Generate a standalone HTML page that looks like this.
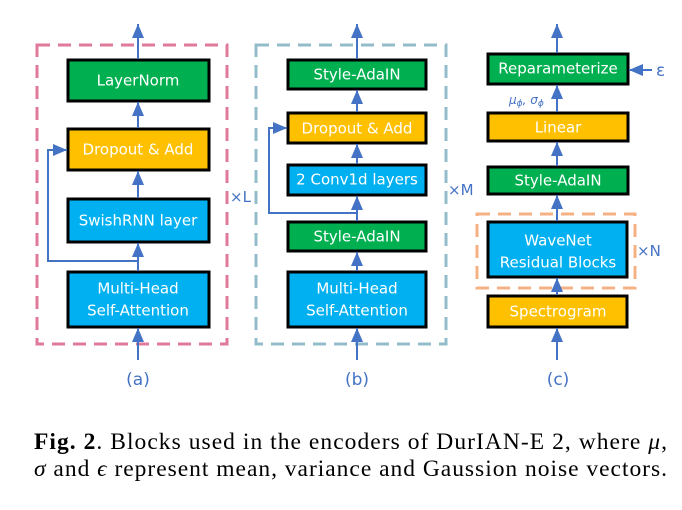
<!DOCTYPE html>
<html><head><meta charset="utf-8"><style>
body{margin:0;background:#fff;width:682px;height:510px;overflow:hidden}
svg{display:block}
.t{font-family:"DejaVu Sans","Liberation Sans",sans-serif;font-size:15px;fill:#fff;text-anchor:middle;dominant-baseline:middle}
.l{font-family:"DejaVu Sans","Liberation Sans",sans-serif;fill:#4472C4;}
.cap{font-family:"Liberation Serif",serif;font-size:23.5px;fill:#000}
</style></head><body>
<svg width="682" height="510" viewBox="0 0 682 510">
<defs><marker id="a" markerWidth="12" markerHeight="14" refX="14" refY="6" orient="auto" markerUnits="userSpaceOnUse"><path d="M0,0 L14,6 L0,12z" fill="#4472C4"/></marker></defs>
<g fill="none" stroke-width="3" stroke-dasharray="13,8">
<rect x="37" y="45" width="190" height="299" stroke="#E07A9A"/>
<rect x="256" y="45" width="190" height="299" stroke="#93BCCB"/>
<rect x="477" y="214" width="158" height="74" stroke="#F4B183"/>
</g>
<g stroke="#000" stroke-width="3">
<rect x="68" y="60" width="141" height="41" fill="#00B050"/>
<rect x="68" y="129" width="141" height="41" fill="#FFC000"/>
<rect x="68" y="199" width="141" height="43" fill="#00B0F0"/>
<rect x="68" y="272" width="141" height="55" fill="#00B0F0"/>
<rect x="288" y="60" width="138" height="29" fill="#00B050"/>
<rect x="288" y="113" width="138" height="30" fill="#FFC000"/>
<rect x="288" y="165" width="138" height="30" fill="#00B0F0"/>
<rect x="288" y="222" width="138" height="29" fill="#00B050"/>
<rect x="288" y="272" width="138" height="55" fill="#00B0F0"/>
<rect x="488" y="54" width="140" height="30" fill="#00B050"/>
<rect x="488" y="113" width="140" height="28" fill="#FFC000"/>
<rect x="488" y="167" width="140" height="27" fill="#00B050"/>
<rect x="488" y="222" width="139" height="55" fill="#00B0F0"/>
<rect x="488" y="296" width="139" height="31" fill="#FFC000"/>
</g>
<g stroke="#4472C4" stroke-width="2" fill="none" marker-end="url(#a)">
<line x1="138" y1="59" x2="138" y2="24"/>
<line x1="138" y1="128" x2="138" y2="102"/>
<line x1="138" y1="198" x2="138" y2="171"/>
<line x1="138" y1="271" x2="138" y2="243"/>
<line x1="138" y1="360" x2="138" y2="328"/>
<polyline points="138,261 48,261 48,150 67,150"/>
<line x1="357" y1="59" x2="357" y2="24"/>
<line x1="357" y1="112" x2="357" y2="90"/>
<line x1="357" y1="164" x2="357" y2="144"/>
<line x1="357" y1="221" x2="357" y2="196"/>
<line x1="357" y1="271" x2="357" y2="252"/>
<line x1="357" y1="360" x2="357" y2="328"/>
<polyline points="357,213 269,213 269,128 287,128"/>
<line x1="557" y1="53" x2="557" y2="24"/>
<line x1="557" y1="112" x2="557" y2="85"/>
<line x1="557" y1="166" x2="557" y2="142"/>
<line x1="557" y1="221" x2="557" y2="195"/>
<line x1="557" y1="295" x2="557" y2="278"/>
<line x1="557" y1="360" x2="557" y2="328"/>
<line x1="652" y1="70" x2="629" y2="70"/>
</g>
<text class="t" x="138" y="81">LayerNorm</text>
<text class="t" x="138" y="150">Dropout &amp; Add</text>
<text class="t" x="138" y="221">SwishRNN layer</text>
<text class="t" x="138" y="289">Multi-Head</text>
<text class="t" x="138" y="311">Self-Attention</text>
<text class="t" x="357" y="75">Style-AdaIN</text>
<text class="t" x="357" y="129">Dropout &amp; Add</text>
<text class="t" x="357" y="180">2 Conv1d layers</text>
<text class="t" x="357" y="237">Style-AdaIN</text>
<text class="t" x="357" y="289">Multi-Head</text>
<text class="t" x="357" y="311">Self-Attention</text>
<text class="t" x="558" y="69">Reparameterize</text>
<text class="t" x="558" y="128">Linear</text>
<text class="t" x="558" y="181">Style-AdaIN</text>
<text class="t" x="558" y="241">WaveNet</text>
<text class="t" x="558" y="263">Residual Blocks</text>
<text class="t" x="558" y="312">Spectrogram</text>
<text class="l" x="138" y="385" font-size="17" text-anchor="middle">(a)</text>
<text class="l" x="357" y="385" font-size="17" text-anchor="middle">(b)</text>
<text class="l" x="558" y="385" font-size="17" text-anchor="middle">(c)</text>
<text class="l" x="230" y="202" font-size="15">×L</text>
<text class="l" x="448" y="195" font-size="15">×M</text>
<text class="l" x="637" y="256" font-size="15">×N</text>
<text class="l" x="656" y="76" font-size="17">ε</text>
<text class="l" x="509" y="104" font-size="12" font-style="italic">μ<tspan font-size="9" dy="2">ϕ</tspan><tspan dy="-2">, σ</tspan><tspan font-size="9" dy="2">ϕ</tspan></text>
<text class="cap" x="34" y="449" textLength="633" lengthAdjust="spacing"><tspan font-weight="bold">Fig. 2</tspan>. Blocks used in the encoders of DurIAN-E 2, where <tspan font-style="italic">μ</tspan>,</text>
<text class="cap" x="34" y="476" textLength="633" lengthAdjust="spacing"><tspan font-style="italic">σ</tspan> and <tspan font-style="italic">ϵ</tspan> represent mean, variance and Gaussion noise vectors.</text>
</svg>
</body></html>
